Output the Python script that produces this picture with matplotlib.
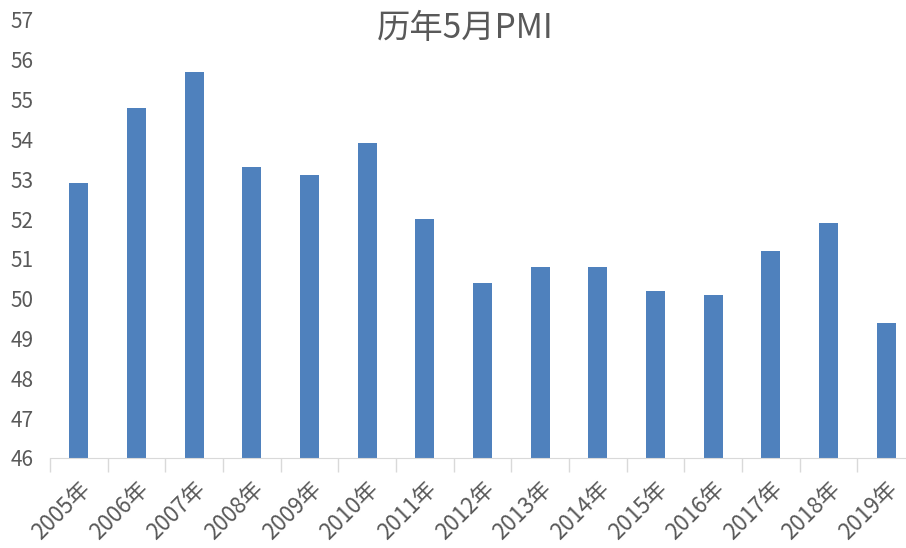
import numpy as np
import matplotlib
matplotlib.use('Agg')
import matplotlib.pyplot as plt

plt.rcParams['font.family'] = ['Noto Sans CJK SC', 'DejaVu Sans']

# 历年5月PMI
years = ['2005年', '2006年', '2007年', '2008年', '2009年', '2010年', '2011年', '2012年',
         '2013年', '2014年', '2015年', '2016年', '2017年', '2018年', '2019年']
pmi = [52.9, 54.8, 55.7, 53.3, 53.1, 53.9, 52.0, 50.4, 50.8, 50.8, 50.2, 50.1, 51.2, 51.9, 49.4]

fig = plt.figure(figsize=(9.06, 5.48), dpi=100)
ax = fig.add_axes([50 / 906, 1 - 458 / 548, 865 / 906, 438 / 548])

x = np.arange(len(years))
base = 46
ax.bar(x, np.array(pmi) - base, bottom=base, width=0.33, color='#4F81BD')

ax.set_xlim(-0.5, len(years) - 0.5)
ax.set_ylim(46, 57)
ax.set_yticks(range(46, 58))
ax.tick_params(axis='y', length=0, labelsize=15, labelcolor='#595959', pad=12)

ax.set_xticks(x)
ax.set_xticklabels(years, rotation=45, ha='right', rotation_mode='anchor',
                   fontsize=16, color='#595959')
ax.tick_params(axis='x', which='major', length=0, pad=14)
ax.set_xticks(np.arange(-0.5, len(years)), minor=True)
ax.tick_params(axis='x', which='minor', length=10, width=1, color='#D9D9D9')

for s in ['top', 'right', 'left']:
    ax.spines[s].set_visible(False)
ax.spines['bottom'].set_color('#D9D9D9')

fig.text(0.513, 0.948, '历年5月PMI', ha='center', va='center', fontsize=24, color='#595959')

fig.savefig('out.png', dpi=100)
